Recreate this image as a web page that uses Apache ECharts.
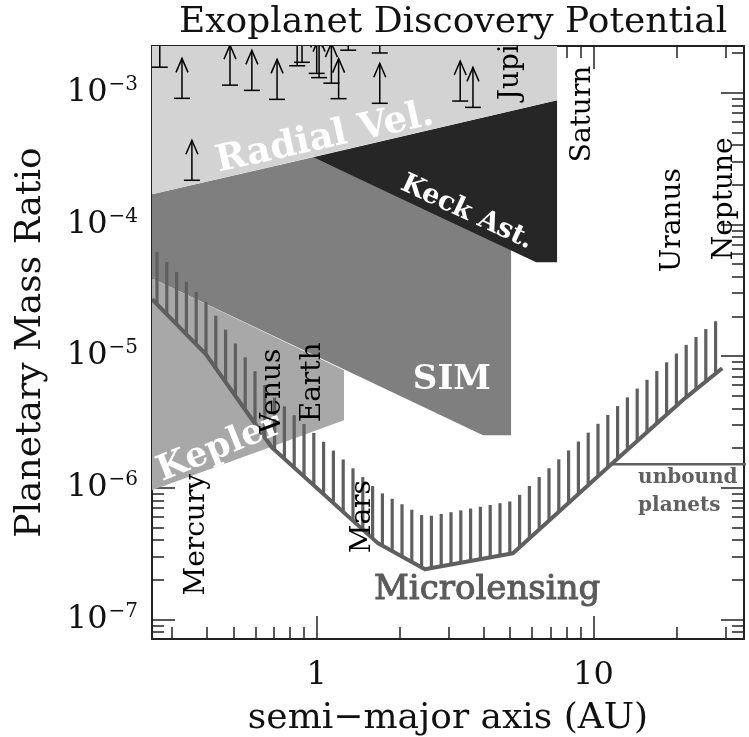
<!DOCTYPE html>
<html>
<head>
<meta charset="utf-8">
<title>Exoplanet Discovery Potential</title>
<script src="https://cdn.jsdelivr.net/npm/echarts@6/dist/echarts.min.js"></script>
<style>
    html, body { margin: 0; padding: 0; background: #fff; }
    #main { width: 749px; height: 737px; }
</style>
</head>
<body>
<div id="main"></div>
<script>
    // axis ticks (semi-major axis in AU, planet/star mass ratio)
    var xMajorTicks = [1, 10];
    var xMinorTicks = [0.3, 0.4, 0.5, 0.6, 0.7, 0.8, 0.9, 2, 3, 4, 5, 6, 7, 8, 9, 20, 30];
    var yMajorTicks = [1e-7, 1e-6, 1e-5, 1e-4, 1e-3];
    var yMinorTicks = [8e-8, 9e-8,
        2e-7, 3e-7, 4e-7, 5e-7, 6e-7, 7e-7, 8e-7, 9e-7,
        2e-6, 3e-6, 4e-6, 5e-6, 6e-6, 7e-6, 8e-6, 9e-6,
        2e-5, 3e-5, 4e-5, 5e-5, 6e-5, 7e-5, 8e-5, 9e-5,
        2e-4, 3e-4, 4e-4, 5e-4, 6e-4, 7e-4, 8e-4, 9e-4,
        2e-3];

    // detection regions, vertices as [AU, mass ratio]
    var keplerRegion = [[0.254, 3.89e-5], [1.255, 7.8e-6], [1.255, 3.25e-6], [0.254, 9.55e-7]];
    var simRegion = [[0.254, 1.69e-4], [0.97, 3.23e-4], [5.04, 6.5e-5], [5.04, 2.5e-6], [3.99, 2.5e-6], [0.254, 3.89e-5]];
    var keckRegion = [[0.97, 3.23e-4], [7.39, 8.74e-4], [7.39, 5.15e-5], [6.21, 5.15e-5]];
    var radialVelRegion = [[0.254, 2.4e-3], [7.39, 2.4e-3], [7.39, 8.74e-4], [0.254, 1.69e-4]];

    // microlensing sensitivity limit
    var lensA = [0.254, 0.398, 0.689, 1.666, 2.46, 5.12, 11.6, 21.4, 29.2];
    var lensQ = [2.7e-5, 1.03e-5, 2.02e-6, 3.78e-7, 2.4e-7, 3.18e-7, 1.51e-6, 4.77e-6, 8.07e-6];
    var hatchFactor = 2.5;

    // free floating planets limit
    var unboundA = [11.6, 40];
    var unboundQ = [1.51e-6, 1.51e-6];

    // radial velocity planets (lower limits)
    var rvA = [0.271, 0.326, 0.354, 0.486, 0.583, 0.719, 0.85, 0.885, 1.0, 1.02, 1.13, 1.2, 1.3, 1.69, 1.69, 3.30, 3.67];
    var rvQ = [1.56e-3, 9.05e-4, 2.16e-4, 1.14e-3, 1.04e-3, 8.89e-4, 1.6e-3, 1.7e-3, 1.4e-3, 1.3e-3, 1.18e-3, 9.0e-4, 2.1e-3, 8.3e-4, 2.0e-3, 8.63e-4, 7.73e-4];

    // solar system planets
    var planetNames = ['Mercury', 'Venus', 'Earth', 'Mars', 'Jupiter', 'Saturn', 'Uranus', 'Neptune'];
    var planetA = [0.369, 0.695, 0.970, 1.47, 5.04, 9.18, 19.4, 29.7];
    var planetQ = [1.52e-7, 2.59e-6, 3.14e-6, 3.18e-7, 8.74e-4, 2.96e-4, 4.32e-5, 5.33e-5];

    // region names
    var noteText = ['Radial Vel.', 'Keck Ast.', 'SIM', 'Kepler', 'Microlensing', 'unbound', 'planets'];
    var noteA = [1.07, 3.49, 3.08, 0.445, 4.13, 14.5, 14.5];
    var noteQ = [4.5e-4, 1.23e-4, 6.54e-6, 2.0e-6, 1.66e-7, 1.18e-6, 7.35e-7];

    var SERIF = '"DejaVu Serif"';
    var noteStyle = [
        { rot: 12.5, font: 'bold 37px ' + SERIF, color: '#fff', align: 'center' },
        { rot: -25, font: 'bold 27px ' + SERIF, color: '#fff', align: 'center' },
        { rot: 0, font: 'bold 34px ' + SERIF, color: '#fff', align: 'center' },
        { rot: 22, font: 'bold 35px ' + SERIF, color: '#fff', align: 'center' },
        { rot: 0, font: '34px ' + SERIF, color: '#5a5a5a', align: 'center', stroke: 1 },
        { rot: 0, font: 'bold 20px ' + SERIF, color: '#606060', align: 'left' },
        { rot: 0, font: 'bold 20px ' + SERIF, color: '#606060', align: 'left' }
    ];

    var X_MIN = 0.254, X_MAX = 35, Y_MIN = 7.1e-8, Y_MAX = 2.26e-3;
    var INK = '#222';

    function pairs(xs, ys) {
        return xs.map(function (x, i) { return [x, ys[i]]; });
    }

    function xAxisDef(pos, ticks, len, major) {
        return {
            type: 'log', min: X_MIN, max: X_MAX, position: pos,
            axisLine: { show: major, lineStyle: { color: INK, width: 2 } },
            axisTick: { inside: true, length: len, customValues: ticks, lineStyle: { color: INK, width: 1.5 } },
            axisLabel: { show: false },
            splitLine: { show: false }
        };
    }

    function yAxisDef(pos, ticks, len, major) {
        return {
            type: 'log', min: Y_MIN, max: Y_MAX, position: pos,
            axisLine: { show: major, lineStyle: { color: INK, width: 2 } },
            axisTick: { inside: true, length: len, customValues: ticks, lineStyle: { color: INK, width: 1.5 } },
            axisLabel: { show: false },
            splitLine: { show: false }
        };
    }

    function regionSeries(points, color) {
        return {
            type: 'custom', clip: true, z: 1,
            data: points,
            encode: { x: 0, y: 1 },
            renderItem: function (params, api) {
                if (params.dataIndex !== 0) return null;
                return {
                    type: 'polygon',
                    shape: { points: points.map(function (p) { return api.coord(p); }) },
                    style: { fill: color }
                };
            }
        };
    }

    var xAxes = [
        xAxisDef('bottom', xMajorTicks, 23, true),
        xAxisDef('bottom', xMinorTicks, 12, false),
        xAxisDef('top', xMajorTicks, 23, true),
        xAxisDef('top', xMinorTicks, 12, false)
    ];
    xAxes[0].axisLabel = {
        show: true, customValues: xMajorTicks, margin: 21,
        color: '#111', fontFamily: SERIF, fontSize: 32,
        formatter: function (v) { return String(Math.round(v)); }
    };
    xAxes[0].name = 'semi\u2212major axis (AU)';
    xAxes[0].nameLocation = 'middle';
    xAxes[0].nameGap = 62;
    xAxes[0].nameTextStyle = { color: '#111', fontFamily: SERIF, fontSize: 36 };

    var yAxes = [
        yAxisDef('left', yMajorTicks, 23, true),
        yAxisDef('left', yMinorTicks, 12, false),
        yAxisDef('right', yMajorTicks, 23, true),
        yAxisDef('right', yMinorTicks, 12, false)
    ];
    yAxes[0].axisLabel = {
        show: true, customValues: yMajorTicks, margin: 14,
        formatter: function (v) {
            var e = Math.round(Math.log(v) / Math.LN10);
            return '{b|10}{s|' + (e < 0 ? '\u2212' : '') + Math.abs(e) + '}';
        },
        rich: {
            b: { color: '#111', fontFamily: SERIF, fontSize: 32, lineHeight: 36 },
            s: { color: '#111', fontFamily: SERIF, fontSize: 20, verticalAlign: 'top', padding: [0, 0, 0, 1] }
        }
    };
    yAxes[0].name = 'Planetary Mass Ratio';
    yAxes[0].nameLocation = 'middle';
    yAxes[0].nameRotate = 90;
    yAxes[0].nameGap = 103;
    yAxes[0].nameTextStyle = { color: '#111', fontFamily: SERIF, fontSize: 36 };

    var myChart = echarts.init(document.getElementById('main'));

    var option = {
        animation: false,
        backgroundColor: '#fff',
        title: {
            text: 'Exoplanet Discovery Potential',
            left: 174, top: 0,
            textStyle: { color: '#111', fontFamily: SERIF, fontSize: 36, fontWeight: 'normal' }
        },
        // fixed plot box, labels may sit close to the canvas edge
        grid: { left: 152, right: 5, top: 46, bottom: 98, outerBoundsMode: 'none' },
        xAxis: xAxes,
        yAxis: yAxes,
        series: [
            regionSeries(keplerRegion, '#a8a8a8'),
            regionSeries(simRegion, '#7f7f7f'),
            regionSeries(keckRegion, '#262626'),
            regionSeries(radialVelRegion, '#d3d3d3'),
            {
                // microlensing limit with hatching on the detectable side
                type: 'custom', clip: true, z: 2,
                data: pairs(lensA, lensQ),
                encode: { x: 0, y: 1 },
                renderItem: function (params, api) {
                    if (params.dataIndex !== 0) return null;
                    var pts = lensA.map(function (a, i) { return api.coord([a, lensQ[i]]); });
                    var lift = api.coord([1, 1e-6])[1] - api.coord([1, 1e-6 * hatchFactor])[1];
                    var kids = [];
                    var seg = 0;
                    for (var x = pts[0][0] + 5; x <= pts[pts.length - 1][0]; x += 9.8) {
                        while (seg < pts.length - 2 && x > pts[seg + 1][0]) seg++;
                        var t = (x - pts[seg][0]) / (pts[seg + 1][0] - pts[seg][0]);
                        var y = pts[seg][1] + t * (pts[seg + 1][1] - pts[seg][1]);
                        kids.push({
                            type: 'line',
                            shape: { x1: x, y1: y, x2: x, y2: y - lift },
                            style: { stroke: '#5f5f5f', lineWidth: 3.2 }
                        });
                    }
                    kids.push({
                        type: 'polyline',
                        shape: { points: pts },
                        style: { stroke: '#5f5f5f', lineWidth: 4, fill: null, lineJoin: 'round' }
                    });
                    return { type: 'group', children: kids };
                }
            },
            {
                type: 'line', z: 2, data: pairs(unboundA, unboundQ),
                symbol: 'none', silent: true,
                lineStyle: { color: '#5f5f5f', width: 2.5 }
            },
            {
                // known exoplanets, m sin i gives lower limits
                type: 'custom', clip: true, z: 3,
                data: pairs(rvA, rvQ),
                encode: { x: 0, y: 1 },
                renderItem: function (params, api) {
                    var p = api.coord([api.value(0), api.value(1)]);
                    var st = { stroke: '#000', lineWidth: 1.5, fill: null };
                    return {
                        type: 'group',
                        children: [
                            { type: 'line', shape: { x1: p[0] - 8, y1: p[1], x2: p[0] + 8, y2: p[1] }, style: st },
                            { type: 'line', shape: { x1: p[0], y1: p[1], x2: p[0], y2: p[1] - 40 }, style: st },
                            { type: 'polyline', shape: { points: [[p[0] - 6, p[1] - 26], [p[0], p[1] - 40], [p[0] + 6, p[1] - 26]] }, style: st }
                        ]
                    };
                }
            },
            {
                type: 'custom', clip: true, z: 4,
                data: pairs(noteA, noteQ),
                encode: { x: 0, y: 1 },
                renderItem: function (params, api) {
                    var i = params.dataIndex, s = noteStyle[i];
                    var p = api.coord([api.value(0), api.value(1)]);
                    return {
                        type: 'text', x: p[0], y: p[1], rotation: s.rot * Math.PI / 180,
                        style: {
                            text: noteText[i], fill: s.color, font: s.font, align: s.align, verticalAlign: 'middle',
                            stroke: s.stroke ? s.color : null, lineWidth: s.stroke || 0
                        }
                    };
                }
            },
            {
                type: 'custom', clip: true, z: 5,
                data: pairs(planetA, planetQ),
                encode: { x: 0, y: 1 },
                renderItem: function (params, api) {
                    var p = api.coord([api.value(0), api.value(1)]);
                    return {
                        type: 'text', x: p[0], y: p[1], rotation: Math.PI / 2,
                        style: { text: planetNames[params.dataIndex], fill: '#000', font: '28px ' + SERIF, align: 'left', verticalAlign: 'middle' }
                    };
                }
            }
        ]
    };

    myChart.setOption(option);
</script>
</body>
</html>
